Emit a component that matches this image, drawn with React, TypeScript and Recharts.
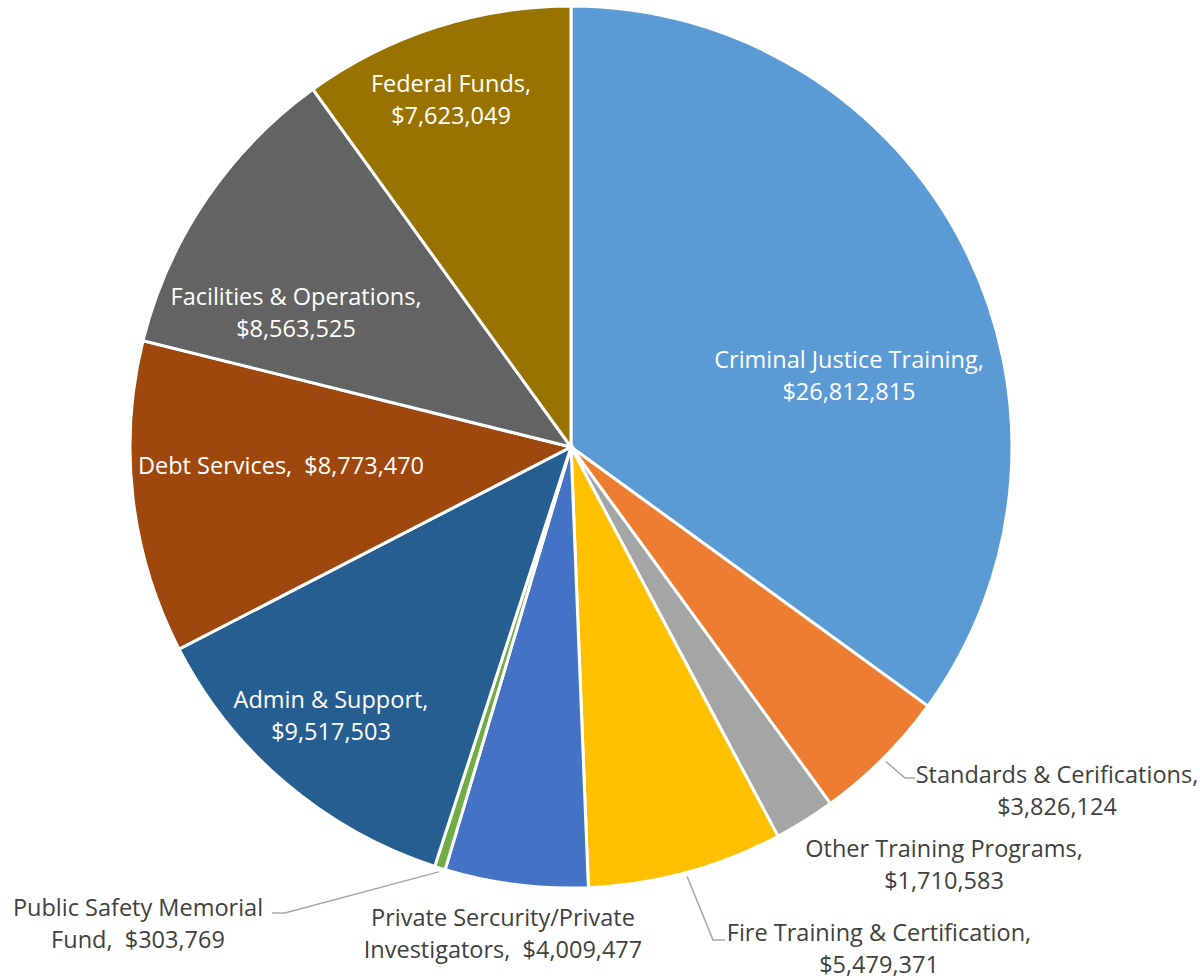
import React from "react"
import { PieChart, Pie, Cell } from "recharts"

const categories = [
    "Criminal Justice Training",
    "Standards & Cerifications",
    "Other Training Programs",
    "Fire Training & Certification",
    "Private Sercurity/Private Investigators",
    "Public Safety Memorial Fund",
    "Admin & Support",
    "Debt Services",
    "Facilities & Operations",
    "Federal Funds",
]

const amounts = [26812815, 3826124, 1710583, 5479371, 4009477, 303769, 9517503, 8773470, 8563525, 7623049]

const colors = ["#5B9BD5", "#ED7D31", "#A5A5A5", "#FFC000", "#4472C4", "#70AD47", "#255E91", "#9E480E", "#636363", "#997300"]

const money = (v: number) => "$" + v.toLocaleString("en-US")

// how each label is broken over lines
const labelLines = amounts.map((v, i) => {
    const name = categories[i]
    if (i === 4) return ["Private Sercurity/Private", "Investigators,  " + money(v)]
    if (i === 5) return ["Public Safety Memorial", "Fund,  " + money(v)]
    if (i === 7) return ["Debt Services,  " + money(v)]
    return [name + ",", money(v)]
})

// label placement relative to pie centre
const labelPos = [
    { dx: 278, dy: -87, inside: true },
    { dx: 486, dy: 328, inside: false, leader: [[334, 331], [344, 331]] },
    { dx: 373, dy: 402, inside: false },
    { dx: 308, dy: 486, inside: false, leader: [[142, 493], [154, 493]] },
    { dx: -68, dy: 471, inside: false },
    { dx: -433, dy: 461, inside: false, leader: [[-286, 466], [-299, 466]] },
    { dx: -240, dy: 253, inside: true },
    { dx: -290, dy: 19, inside: true },
    { dx: -275, dy: -150, inside: true },
    { dx: -120, dy: -363, inside: true },
]

const data = categories.map((name, i) => ({ name, value: amounts[i] }))

const RAD = Math.PI / 180

const renderLabel = (props: any) => {
    const { cx, cy, midAngle, outerRadius, index } = props
    const pos = labelPos[index]
    const lines = labelLines[index]
    let leader = null
    if (pos.leader) {
        const sx = cx + (outerRadius + 4) * Math.cos(-midAngle * RAD)
        const sy = cy + (outerRadius + 4) * Math.sin(-midAngle * RAD)
        const pts = [[sx, sy], ...pos.leader.map(p => [cx + p[0], cy + p[1]])]
        leader = <polyline points={pts.map(p => p.join(",")).join(" ")} fill="none" stroke="#A6A6A6" strokeWidth={1.5} />
    }
    return (
        <g key={"lbl" + index}>
            {leader}
            <text x={cx + pos.dx} y={cy + pos.dy} textAnchor="middle" fill={pos.inside ? "#FFFFFF" : "#404040"}
                fontFamily="'Open Sans', sans-serif" fontSize={23.5} style={{ whiteSpace: "pre" }}>
                {lines.map((l, j) => (
                    <tspan key={j} x={cx + pos.dx} dy={j === 0 ? 8 : 31.5}>{l}</tspan>
                ))}
            </text>
        </g>
    )
}

const App = () => {
    return (
        <div>
            <style>{"body{margin:0;background:#fff}"}</style>
            <PieChart width={1200} height={980} margin={{ top: 0, right: 0, bottom: 0, left: 0 }}>
                <Pie data={data} dataKey="value" nameKey="name" cx={571} cy={447} outerRadius={441}
                    startAngle={90} endAngle={-270} stroke="#FFFFFF" strokeWidth={3}
                    label={renderLabel} labelLine={false} isAnimationActive={false}>
                    {data.map((d, i) => <Cell key={d.name} fill={colors[i]} />)}
                </Pie>
            </PieChart>
        </div>
    )
}

export default App
